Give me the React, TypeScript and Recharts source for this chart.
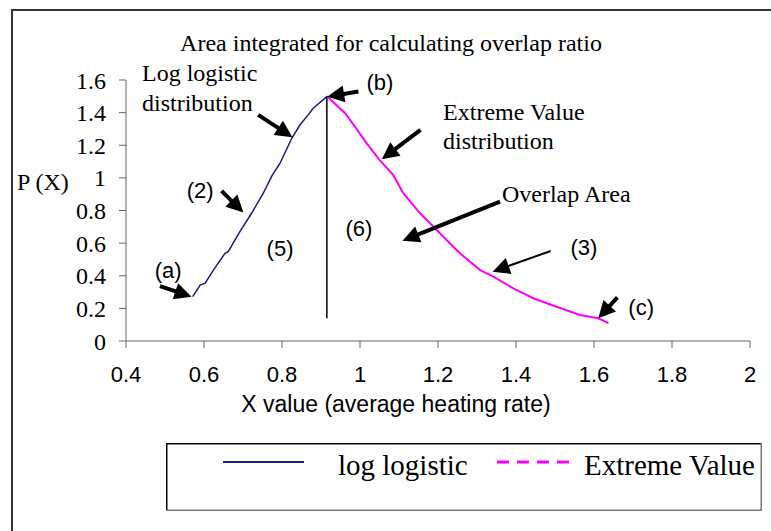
import React from 'react';
import { LineChart, Line, XAxis, YAxis, ReferenceLine, ReferenceDot, Legend } from 'recharts';

// log logistic curve (rising part, up to the cut at the peak)
const logLogisticX = [0.571, 0.59, 0.603, 0.624, 0.654, 0.662, 0.692, 0.722, 0.752, 0.774, 0.795, 0.825, 0.846, 0.867, 0.88, 0.915];
const logLogisticY = [0.272, 0.343, 0.354, 0.435, 0.538, 0.548, 0.67, 0.783, 0.906, 1.012, 1.09, 1.243, 1.324, 1.386, 1.427, 1.498];

// extreme value curve (falling part, from the peak on)
const extremeX = [0.915, 0.962, 0.987, 1.017, 1.05, 1.085, 1.111, 1.154, 1.201, 1.256, 1.308, 1.342, 1.393, 1.444, 1.504, 1.564, 1.611, 1.637];
const extremeY = [1.5, 1.396, 1.314, 1.212, 1.11, 1.018, 0.906, 0.783, 0.67, 0.538, 0.435, 0.394, 0.323, 0.262, 0.21, 0.159, 0.139, 0.109];

const xTicks = [0.4, 0.6, 0.8, 1, 1.2, 1.4, 1.6, 1.8, 2];
const yTicks = [0, 0.2, 0.4, 0.6, 0.8, 1, 1.2, 1.4, 1.6];

const seriesNames = ['log logistic', 'Extreme Value'];

// vertical divider at the peak
const cutX = 0.915;
const cutFrom = 0.14;
const cutTo = 1.5;

// point labels (x, y in data units)
const markLabels = [
  { text: '(a)', x: 0.508, y: 0.435 },
  { text: '(2)', x: 0.59, y: 0.926 },
  { text: '(5)', x: 0.795, y: 0.57 },
  { text: '(6)', x: 0.997, y: 0.693 },
  { text: '(b)', x: 1.051, y: 1.588 },
  { text: '(3)', x: 1.574, y: 0.576 },
  { text: '(c)', x: 1.721, y: 0.208 },
];

const noteLabels = [
  { text: 'Log logistic', x: 0.441, y: 1.643 },
  { text: 'distribution', x: 0.441, y: 1.459 },
  { text: 'Extreme Value', x: 1.213, y: 1.404 },
  { text: 'distribution', x: 1.213, y: 1.226 },
  { text: 'Overlap Area', x: 1.364, y: 0.901 },
];

// arrows: tail -> head
const arrows = [
  { from: [0.487, 0.337], to: [0.568, 0.272] },
  { from: [0.739, 1.386], to: [0.827, 1.249] },
  { from: [0.645, 0.92], to: [0.701, 0.787] },
  { from: [0.996, 1.529], to: [0.916, 1.498] },
  { from: [1.155, 1.294], to: [1.056, 1.114] },
  { from: [1.359, 0.855], to: [1.109, 0.615] },
  { from: [1.66, 0.268], to: [1.611, 0.139] },
];
const thinArrows = [{ from: [1.489, 0.552], to: [1.34, 0.425] }];

const logData = logLogisticX.map((x, i) => ({ x, y: logLogisticY[i] }));
const extremeData = extremeX.map((x, i) => ({ x, y: extremeY[i] }));

const serif = '"Liberation Serif", "Times New Roman", serif';
const sans = '"Liberation Sans", Arial, sans-serif';

const arrowShape = (w: number, head: number, half: number) => (p: any) => {
  const { x1, y1, x2, y2 } = p;
  const dx = x2 - x1;
  const dy = y2 - y1;
  const len = Math.hypot(dx, dy) || 1;
  const ux = dx / len;
  const uy = dy / len;
  const bx = x2 - ux * head;
  const by = y2 - uy * head;
  const px = -uy * half;
  const py = ux * half;
  return (
    <g>
      <line x1={x1} y1={y1} x2={bx + ux * 2} y2={by + uy * 2} stroke="#000" strokeWidth={w} />
      <polygon points={`${x2},${y2} ${bx + px},${by + py} ${bx - px},${by - py}`} fill="#000" />
    </g>
  );
};

const renderLegend = () => (
  <svg width={596} height={68} style={{ display: 'block' }}>
    <rect x={0.75} y={0.75} width={594.5} height={66.5} fill="#fff" stroke="none" />
    <line x1={0} y1={0.75} x2={596} y2={0.75} stroke="#000" strokeWidth={1.5} />
    <line x1={0.75} y1={0} x2={0.75} y2={68} stroke="#000" strokeWidth={1.5} />
    <line x1={0} y1={67.25} x2={596} y2={67.25} stroke="#777" strokeWidth={1.5} />
    <line x1={595.25} y1={0} x2={595.25} y2={68} stroke="#777" strokeWidth={1.5} />
    <line x1={57} y1={19} x2={138} y2={19} stroke="#1a1a80" strokeWidth={2} />
    <text x={172} y={22} dy="0.35em" fontFamily={serif} fontSize={29} fill="#000">{seriesNames[0]}</text>
    <line x1={331} y1={19} x2={411} y2={19} stroke="#FF00FF" strokeWidth={3} strokeDasharray="12 8" />
    <text x={418} y={22} dy="0.35em" fontFamily={serif} fontSize={29} fill="#000">{seriesNames[1]}</text>
  </svg>
);

export default function App() {
  return (
    <div style={{ position: 'absolute', left: 0, top: 0, width: 771, height: 531, overflow: 'hidden', background: '#fff' }}>
      <div style={{ position: 'absolute', left: 11, top: 9, width: 800, height: 600, borderTop: '2px solid #333', borderLeft: '2px solid #333' }} />
      <LineChart width={771} height={531} data={logData} margin={{ top: 80, right: 21, bottom: 160, left: 66 }}>
        <XAxis
          dataKey="x"
          type="number"
          domain={[0.4, 2]}
          ticks={xTicks}
          interval={0}
          height={30}
          tickSize={7}
          tickMargin={18}
          stroke="#666"
          tick={{ fill: '#000', fontSize: 22, fontFamily: sans }}
        />
        <YAxis
          type="number"
          domain={[0, 1.6]}
          ticks={yTicks}
          interval={0}
          width={60}
          tickSize={7}
          tickMargin={13}
          stroke="#666"
          tick={{ fill: '#000', fontSize: 24, fontFamily: serif }}
        />
        <Line data={logData} dataKey="y" name={seriesNames[0]} type="linear" stroke="#1a1a80" strokeWidth={1.5} dot={false} isAnimationActive={false} />
        <Line data={extremeData} dataKey="y" name={seriesNames[1]} type="linear" stroke="#FF00FF" strokeWidth={2} dot={false} isAnimationActive={false} />
        <ReferenceLine
          segment={[{ x: cutX, y: cutFrom }, { x: cutX, y: cutTo }]}
          stroke="#000"
          strokeWidth={1.5}
          ifOverflow="visible"
        />
        {arrows.map((a, i) => (
          <ReferenceLine
            key={'a' + i}
            segment={[{ x: a.from[0], y: a.from[1] }, { x: a.to[0], y: a.to[1] }]}
            ifOverflow="visible"
            shape={arrowShape(4, 17, 8.5)}
          />
        ))}
        {thinArrows.map((a, i) => (
          <ReferenceLine
            key={'t' + i}
            segment={[{ x: a.from[0], y: a.from[1] }, { x: a.to[0], y: a.to[1] }]}
            ifOverflow="visible"
            shape={arrowShape(2, 17, 8.5)}
          />
        ))}
        {markLabels.map((m, i) => (
          <ReferenceDot
            key={'m' + i}
            x={m.x}
            y={m.y}
            ifOverflow="visible"
            shape={(p: any) => (
              <text x={p.cx} y={p.cy} dy="0.35em" textAnchor="middle" fontFamily={sans} fontSize={22} fill="#000">
                {m.text}
              </text>
            )}
          />
        ))}
        {noteLabels.map((m, i) => (
          <ReferenceDot
            key={'n' + i}
            x={m.x}
            y={m.y}
            ifOverflow="visible"
            shape={(p: any) => (
              <text x={p.cx} y={p.cy} dy="0.35em" textAnchor="start" fontFamily={serif} fontSize={24} fill="#000">
                {m.text}
              </text>
            )}
          />
        ))}
        <Legend
          layout="horizontal"
          verticalAlign="middle"
          align="center"
          wrapperStyle={{ left: 166, top: 443, width: 596, height: 68 }}
          content={renderLegend}
        />
      </LineChart>
      <div style={{ position: 'absolute', left: 0, width: 782, top: 30, textAlign: 'center', fontFamily: serif, fontSize: 24, lineHeight: '26px', whiteSpace: 'nowrap' }}>
        Area integrated for calculating overlap ratio
      </div>
      <div style={{ position: 'absolute', left: 17, top: 168, fontFamily: serif, fontSize: 24, lineHeight: '28px', whiteSpace: 'nowrap' }}>
        P (X)
      </div>
      <div style={{ position: 'absolute', left: 0, width: 792, top: 390, textAlign: 'center', fontFamily: sans, fontSize: 23, lineHeight: '28px', whiteSpace: 'nowrap' }}>
        X value (average heating rate)
      </div>
    </div>
  );
}
